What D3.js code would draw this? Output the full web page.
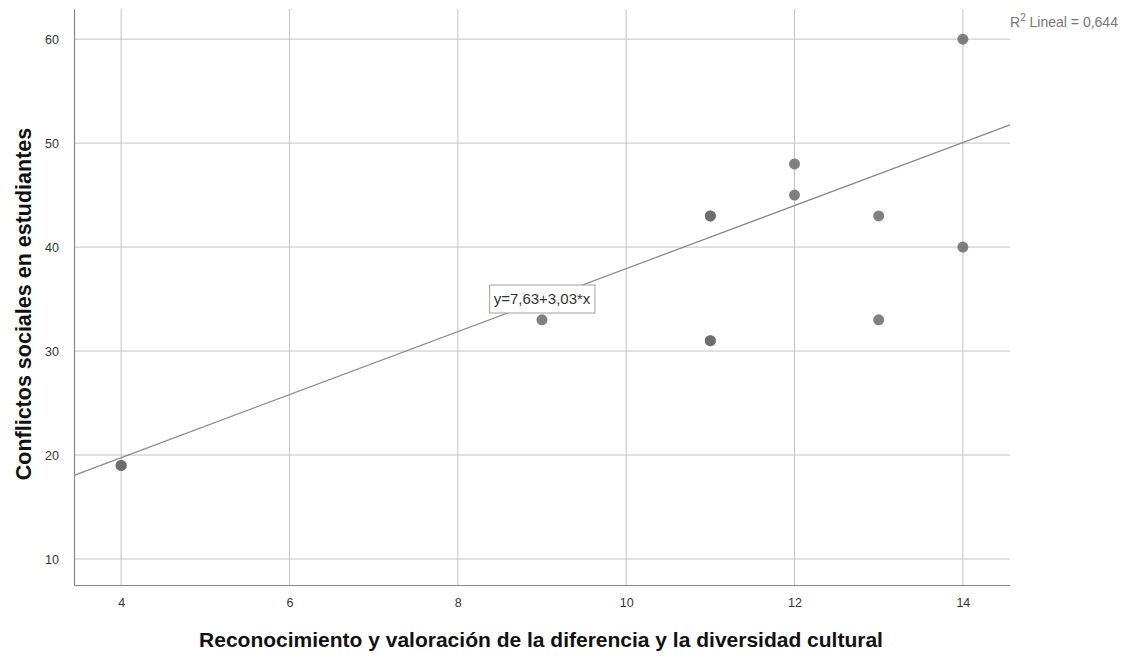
<!DOCTYPE html>
<html><head><meta charset="utf-8">
<script src="https://cdn.jsdelivr.net/npm/d3@7"></script>
<style>body{margin:0;background:#fff}svg{display:block}text{font-family:Arial,"Liberation Sans",sans-serif}</style>
</head><body>
<script>
const xValues = [4, 4, 9, 11, 11, 11, 11, 12, 12, 13, 13, 14, 14];
const yValues = [19, 19, 33, 43, 43, 31, 31, 48, 45, 43, 33, 60, 40];
const xTicks = [4, 6, 8, 10, 12, 14];
const yTicks = [10, 20, 30, 40, 50, 60];
const fitIntercept = 7.63, fitSlope = 3.03;
const equationLabel = "y=7,63+3,03*x";
const r2Label = "Lineal = 0,644";
const xTitle = "Reconocimiento y valoración de la diferencia y la diversidad cultural";
const yTitle = "Conflictos sociales en estudiantes";

const W = 1131, H = 659;
const svg = d3.select("body").append("svg").attr("width", W).attr("height", H);
const x = d3.scaleLinear().domain([3.44, 14.56]).range([74, 1010]);
const y = d3.scaleLinear().domain([7.5, 62.9]).range([585, 9]);

const g = svg.append("g");
g.selectAll(".vg").data(xTicks).join("line")
  .attr("x1", d => x(d)).attr("x2", d => x(d)).attr("y1", 9).attr("y2", 585)
  .attr("stroke", "#c4c4c4").attr("stroke-width", 1);
g.selectAll(".hg").data(yTicks).join("line")
  .attr("x1", 74).attr("x2", 1010).attr("y1", d => y(d)).attr("y2", d => y(d))
  .attr("stroke", "#c4c4c4").attr("stroke-width", 1);

const xAxis = d3.axisBottom(x).tickValues(xTicks).tickSize(0).tickPadding(13);
const yAxis = d3.axisLeft(y).tickValues(yTicks).tickSize(0).tickPadding(15);
const xa = svg.append("g").attr("transform", "translate(0,585)").call(xAxis);
const ya = svg.append("g").attr("transform", "translate(74,0)").call(yAxis);
[xa, ya].forEach(a => {
  a.select(".domain").attr("stroke", "#888").attr("stroke-width", 1.2);
  a.selectAll("text").attr("fill", "#333").attr("font-size", 12.5).attr("font-family", "Arial, 'Liberation Sans', sans-serif");
});

const [x0, x1] = x.domain();
svg.append("line")
  .attr("x1", x(x0)).attr("y1", y(fitIntercept + fitSlope * x0))
  .attr("x2", x(x1)).attr("y2", y(fitIntercept + fitSlope * x1))
  .attr("stroke", "#8a8a8a").attr("stroke-width", 1.3);

svg.selectAll(".pt").data(xValues.map((d, i) => [d, yValues[i]])).join("circle")
  .attr("cx", d => x(d[0])).attr("cy", d => y(d[1])).attr("r", 5.5)
  .attr("fill", "#6a6a6a").attr("fill-opacity", 0.85);

const eq = svg.append("g").attr("transform", `translate(${x(9)},299)`);
const eqText = eq.append("text").attr("text-anchor", "middle").attr("dy", "0.35em")
  .attr("font-size", 15).attr("fill", "#333").text(equationLabel);
const bb = eqText.node().getBBox();
eq.insert("rect", "text").attr("x", bb.x - 4).attr("y", -14).attr("width", bb.width + 8).attr("height", 28)
  .attr("fill", "#fff").attr("stroke", "#a0a0a0").attr("stroke-width", 1);

const r2 = svg.append("text").attr("x", 1010).attr("y", 27).attr("font-size", 14).attr("fill", "#777");
r2.append("tspan").text("R");
r2.append("tspan").attr("dy", -6).attr("font-size", 10).text("2");
r2.append("tspan").attr("dy", 6).text(" " + r2Label);

svg.append("text").attr("x", 541).attr("y", 647).attr("text-anchor", "middle")
  .attr("font-size", 21).attr("font-weight", "bold").attr("fill", "#111").text(xTitle);
svg.append("text").attr("transform", "translate(31,304) rotate(-90)").attr("text-anchor", "middle")
  .attr("font-size", 21.5).attr("font-weight", "bold").attr("fill", "#111").text(yTitle);
</script>
</body></html>
